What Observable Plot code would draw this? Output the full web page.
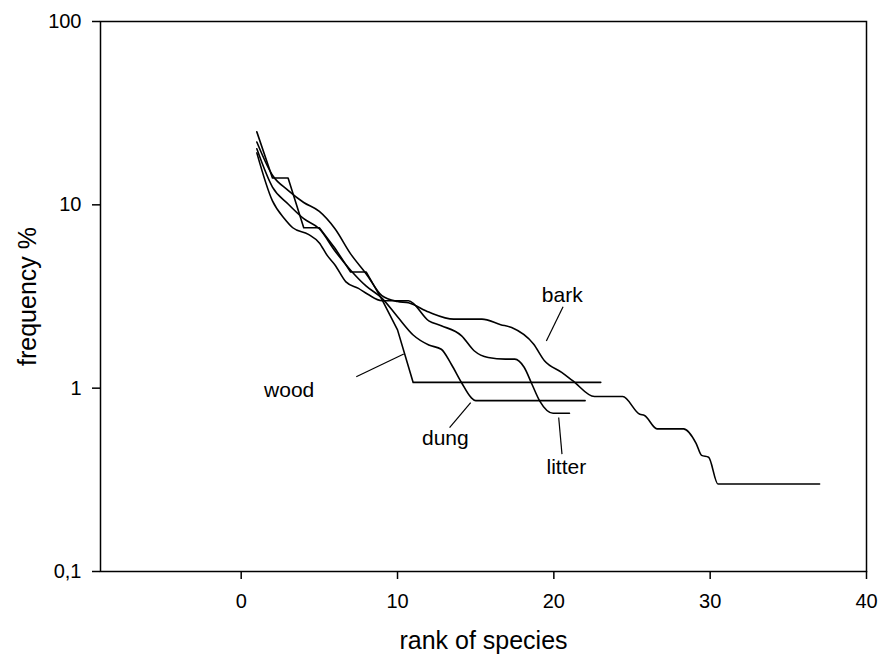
<!DOCTYPE html>
<html><head><meta charset="utf-8">
<script src="https://cdn.jsdelivr.net/npm/d3@7"></script>
<script src="https://cdn.jsdelivr.net/npm/@observablehq/plot@0.6"></script>
<style>
body{margin:0;background:#fff;}
#chart svg{font-family:"Liberation Sans",Arial,sans-serif;}
</style>
</head><body><div id="chart"></div>
<script>
// ---- data ----
const woodRank = [1,2,3,4,5,6,7,8,9,10,11,12,13,14,15,16,17,18,19,20,21,22,23];
const woodFreq = [25,14,14,7.5,7.5,5.8,4.3,4.3,3.05,2.08,1.075,1.075,1.075,1.075,1.075,1.075,1.075,1.075,1.075,1.075,1.075,1.075,1.075];

const barkRank = [1,2,3,4,5,6,7,8,9,10,10.7,12,13.6,15.4,16.6,17.3,18.7,19.4,20.5,21.2,22.6,24.4,25.5,25.8,26.6,28.3,29.1,29.45,29.9,30.5,37];
const barkFreq = [22,14.5,12,10.3,9.2,7.4,5.4,4.2,3.2,2.97,2.92,2.6,2.38,2.38,2.22,2.14,1.74,1.41,1.22,1.10,0.9,0.9,0.72,0.71,0.6,0.6,0.5,0.43,0.42,0.3,0.3];

const dungRank = [1,2,3,4,5,6,7,8,9,10,11,12,12.8,13.44,14.1,14.7,15,22];
const dungFreq = [20.2,12.5,10.1,8.4,7.4,5.6,4.4,3.6,3.1,2.45,1.95,1.72,1.63,1.35,1.07,0.89,0.855,0.855];

const litterRank = [1,2,2.77,3.3,4.3,5.0,5.5,6.0,6.7,7.5,8.1,9,10.7,12,12.8,14.1,14.9,15.8,16.9,17.5,18.1,18.6,19.1,19.95,21];
const litterFreq = [19.2,10.5,8.4,7.5,6.9,6.2,5.3,4.7,3.8,3.5,3.25,3.0,3.0,2.33,2.19,1.93,1.60,1.47,1.44,1.44,1.30,1.05,0.85,0.73,0.73];

const labelNames = ["bark","wood","dung","litter"];
const labelRank  = [20.54, 3.07, 13.06, 20.8];
const labelFreq  = [3.23, 0.98, 0.53, 0.368];

// leader lines: start (near label) -> end (on curve)
const leaderRank1 = [20.59, 7.36, 13.33, 20.52];
const leaderFreq1 = [2.78, 1.154, 0.61, 0.437];
const leaderRank2 = [19.52, 10.4, 14.68, 20.31];
const leaderFreq2 = [1.81, 1.535, 0.835, 0.692];

const rankTicks = [0,10,20,30,40];
const freqTicks = [0.1,1,10,100];
const freqTickLabels = ["0,1","1","10","100"];
const xTitle = ["rank of species"];
const yTitle = ["frequency %"];

// ---- build tables ----
const toRows = (r, f) => r.map((x, i) => ({rank: x, freq: f[i]}));
const wood = toRows(woodRank, woodFreq);
const bark = toRows(barkRank, barkFreq);
const dung = toRows(dungRank, dungFreq);
const litter = toRows(litterRank, litterFreq);
const labels = labelNames.map((n, i) => ({name: n, rank: labelRank[i], freq: labelFreq[i]}));
const leaders = labelNames.map((n, i) => ({x1: leaderRank1[i], y1: leaderFreq1[i], x2: leaderRank2[i], y2: leaderFreq2[i]}));

const chart = Plot.plot({
  width: 880,
  height: 662,
  marginLeft: 100,
  marginRight: 14,
  marginTop: 21,
  marginBottom: 91,
  style: {fontSize: "20px", fontFamily: "'Liberation Sans', Arial, sans-serif", color: "black", background: "white"},
  x: {domain: [-9, 40]},
  y: {type: "log", domain: [0.1, 100]},
  marks: [
    Plot.frame({stroke: "black", strokeWidth: 1.5}),
    Plot.axisX({ticks: rankTicks, tickSize: 8, tickPadding: 14, label: null, strokeWidth: 1.5}),
    Plot.axisY({ticks: freqTicks, tickFormat: (d) => freqTickLabels[freqTicks.indexOf(d)], tickSize: 8, tickPadding: 11, label: null, strokeWidth: 1.5}),
    Plot.line(wood, {x: "rank", y: "freq", stroke: "black", strokeWidth: 1.6, curve: "linear"}),
    Plot.line(bark, {x: "rank", y: "freq", stroke: "black", strokeWidth: 1.6, curve: "monotone-x"}),
    Plot.line(dung, {x: "rank", y: "freq", stroke: "black", strokeWidth: 1.6, curve: "monotone-x"}),
    Plot.line(litter, {x: "rank", y: "freq", stroke: "black", strokeWidth: 1.6, curve: "monotone-x"}),
    Plot.link(leaders, {x1: "x1", y1: "y1", x2: "x2", y2: "y2", stroke: "black", strokeWidth: 1.2}),
    Plot.text(labels, {x: "rank", y: "freq", text: "name", fill: "black", fontSize: 21}),
    Plot.text(xTitle, {frameAnchor: "bottom", dy: 77, textAnchor: "middle", fill: "black", fontSize: 25}),
    Plot.text(yTitle, {frameAnchor: "left", dx: -73, rotate: -90, textAnchor: "middle", fill: "black", fontSize: 25})
  ]
});
document.getElementById("chart").appendChild(chart);
</script>
</body></html>
